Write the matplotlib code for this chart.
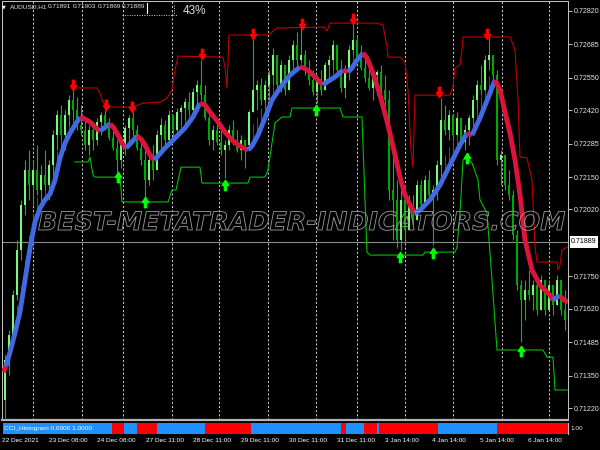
import numpy as np
import matplotlib
matplotlib.use("Agg")
import matplotlib.pyplot as plt
from matplotlib import font_manager, patheffects
from matplotlib.path import Path
from matplotlib.lines import Line2D
from matplotlib.patches import Rectangle
from matplotlib.transforms import blended_transform_factory

# ---------------- data ----------------
symbol = "AUDUSD,H1"
header_ohlc = ["0.71891", "0.71903", "0.71869", "0.71889"]
spread_pct = "43%"
last_price = 0.71889
first_open = 0.71252

high = [0.71433, 0.71534, 0.71695, 0.71897, 0.72058, 0.72219, 0.72259, 0.72219, 0.72279, 0.72199,
        0.72259, 0.72219, 0.72339, 0.72420, 0.72440, 0.72420, 0.72480, 0.72501, 0.72472, 0.72440,
        0.72388, 0.72360, 0.72360, 0.72388, 0.72412, 0.72420, 0.72388, 0.72360, 0.72299, 0.72299,
        0.72360, 0.72400, 0.72412, 0.72360, 0.72299, 0.72259, 0.72259, 0.72279, 0.72339, 0.72388,
        0.72380, 0.72420, 0.72400, 0.72428, 0.72440, 0.72468, 0.72493, 0.72509, 0.72541, 0.72621,
        0.72521, 0.72400, 0.72360, 0.72380, 0.72339, 0.72299, 0.72360, 0.72380, 0.72339, 0.72319,
        0.72299, 0.72420, 0.72710, 0.72541, 0.72549, 0.72541, 0.72581, 0.72670, 0.72642, 0.72621,
        0.72601, 0.72642, 0.72702, 0.72734, 0.72750, 0.72662, 0.72621, 0.72581, 0.72561, 0.72581,
        0.72613, 0.72642, 0.72702, 0.72682, 0.72621, 0.72601, 0.72682, 0.72782, 0.72722, 0.72682,
        0.72642, 0.72601, 0.72581, 0.72581, 0.72601, 0.72561, 0.72501, 0.72259, 0.72138, 0.72098,
        0.72118, 0.72078, 0.72078, 0.72138, 0.72138, 0.72158, 0.72178, 0.72118, 0.72219, 0.72468,
        0.72440, 0.72420, 0.72400, 0.72412, 0.72380, 0.72360, 0.72400, 0.72480, 0.72541, 0.72601,
        0.72642, 0.72710, 0.72642, 0.72581, 0.72259, 0.72219, 0.72178, 0.72098, 0.71937, 0.71735,
        0.71735, 0.71776, 0.71735, 0.71735, 0.71756, 0.71715, 0.71735, 0.71715, 0.71756, 0.71715,
        0.71695]

low = [0.71180, 0.71353, 0.71474, 0.71655, 0.71816, 0.71997, 0.72058, 0.72037, 0.72078, 0.72037,
       0.72098, 0.72058, 0.72158, 0.72259, 0.72299, 0.72259, 0.72360, 0.72380, 0.72339, 0.72319,
       0.72259, 0.72239, 0.72259, 0.72279, 0.72319, 0.72339, 0.72299, 0.72259, 0.72170, 0.72186,
       0.72239, 0.72279, 0.72319, 0.72259, 0.72199, 0.72070, 0.72118, 0.72138, 0.72199, 0.72259,
       0.72279, 0.72299, 0.72319, 0.72339, 0.72360, 0.72380, 0.72400, 0.72420, 0.72440, 0.72460,
       0.72380, 0.72279, 0.72259, 0.72279, 0.72239, 0.72146, 0.72259, 0.72279, 0.72251, 0.72219,
       0.72186, 0.72259, 0.72440, 0.72420, 0.72440, 0.72428, 0.72460, 0.72521, 0.72501, 0.72493,
       0.72480, 0.72509, 0.72561, 0.72601, 0.72613, 0.72561, 0.72521, 0.72480, 0.72448, 0.72480,
       0.72509, 0.72533, 0.72581, 0.72561, 0.72493, 0.72468, 0.72541, 0.72642, 0.72613, 0.72581,
       0.72533, 0.72501, 0.72460, 0.72480, 0.72493, 0.72440, 0.72058, 0.71897, 0.71864, 0.71856,
       0.71897, 0.71937, 0.71957, 0.71997, 0.72017, 0.72037, 0.72058, 0.71876, 0.72058, 0.72138,
       0.72319, 0.72299, 0.72299, 0.72319, 0.72279, 0.72259, 0.72279, 0.72360, 0.72420, 0.72480,
       0.72521, 0.72581, 0.72541, 0.72199, 0.72118, 0.72098, 0.72058, 0.71897, 0.71695, 0.71486,
       0.71574, 0.71655, 0.71615, 0.71594, 0.71635, 0.71594, 0.71615, 0.71594, 0.71635, 0.71594,
       0.71534]

close = [0.71413, 0.71514, 0.71675, 0.71856, 0.72037, 0.72178, 0.72118, 0.72178, 0.72098, 0.72158,
         0.72118, 0.72199, 0.72319, 0.72400, 0.72319, 0.72400, 0.72460, 0.72420, 0.72360, 0.72339,
         0.72279, 0.72339, 0.72299, 0.72372, 0.72400, 0.72360, 0.72307, 0.72267, 0.72219, 0.72279,
         0.72348, 0.72388, 0.72339, 0.72267, 0.72219, 0.72138, 0.72219, 0.72178, 0.72319, 0.72360,
         0.72299, 0.72400, 0.72339, 0.72412, 0.72428, 0.72452, 0.72420, 0.72493, 0.72521, 0.72480,
         0.72388, 0.72299, 0.72339, 0.72291, 0.72259, 0.72279, 0.72339, 0.72299, 0.72259, 0.72299,
         0.72279, 0.72412, 0.72501, 0.72521, 0.72460, 0.72521, 0.72561, 0.72642, 0.72521, 0.72601,
         0.72501, 0.72621, 0.72682, 0.72621, 0.72642, 0.72581, 0.72541, 0.72493, 0.72541, 0.72501,
         0.72601, 0.72621, 0.72682, 0.72581, 0.72509, 0.72581, 0.72662, 0.72702, 0.72629, 0.72589,
         0.72549, 0.72509, 0.72561, 0.72573, 0.72501, 0.72460, 0.72098, 0.72058, 0.71897, 0.72058,
         0.71937, 0.72037, 0.71977, 0.72118, 0.72037, 0.72138, 0.72078, 0.72098, 0.72199, 0.72380,
         0.72339, 0.72400, 0.72319, 0.72388, 0.72291, 0.72339, 0.72388, 0.72460, 0.72521, 0.72501,
         0.72621, 0.72642, 0.72561, 0.72219, 0.72239, 0.72118, 0.72078, 0.71917, 0.71715, 0.71655,
         0.71695, 0.71675, 0.71715, 0.71615, 0.71735, 0.71615, 0.71715, 0.71635, 0.71735, 0.71615,
         0.71574]

# trend moving average (bar position, price, 1 = rising/blue, 0 = falling/red)
ma_bar = [-0.5, 0.25, 1.25, 2.5, 3.75, 5, 6.25, 7.5, 8.75, 10, 11.25, 12.5, 13.75, 15, 16.25,
          17.5, 18.75, 20, 21.25, 22.5, 23.75, 24.75, 26.25, 27.25, 28.25, 29.25, 30.25, 31.25,
          33, 34, 35, 36.25, 37.25, 38.25, 40, 42.5, 45, 47, 48.75, 50, 51.25, 53.25, 55, 56.75,
          58.75, 60.75, 61.75, 63.25, 65, 66.75, 68.75, 71.25, 73.75, 74.75, 76.25, 78.25, 79.5,
          80.5, 82.5, 84.5, 85.75, 86.75, 88, 89.5, 90.5, 91.75, 93.75, 95.75, 97.5, 98.75, 100,
          101.25, 102.5, 103.75, 106.25, 108.75, 111.25, 113.75, 115.5, 116.75, 118.75, 120.75,
          122.5, 123.75, 125, 126.25, 127.5, 128.75, 130, 131.75, 133.75, 136.25, 137, 138,
          138.75, 139.75, 140.75]
ma_price = [0.71365, 0.71389, 0.71445, 0.71522, 0.71607, 0.71735, 0.71864, 0.71969, 0.72025,
            0.72058, 0.72082, 0.72138, 0.72227, 0.72287, 0.72327, 0.72360, 0.72392, 0.72384,
            0.72372, 0.72352, 0.72335, 0.72348, 0.72364, 0.72348, 0.72319, 0.72287, 0.72267,
            0.72283, 0.72315, 0.72303, 0.72279, 0.72239, 0.72219, 0.72235, 0.72267, 0.72307,
            0.72348, 0.72392, 0.72448, 0.72440, 0.72412, 0.72372, 0.72331, 0.72299, 0.72275,
            0.72259, 0.72275, 0.72319, 0.72388, 0.72460, 0.72509, 0.72561, 0.72593, 0.72589,
            0.72573, 0.72541, 0.72521, 0.72533, 0.72553, 0.72581, 0.72573, 0.72589, 0.72621,
            0.72650, 0.72629, 0.72581, 0.72480, 0.72360, 0.72239, 0.72150, 0.72078, 0.72037,
            0.72005, 0.72017, 0.72058, 0.72118, 0.72199, 0.72279, 0.72327, 0.72319, 0.72388,
            0.72468, 0.72541, 0.72501, 0.72412, 0.72327, 0.72219, 0.72078, 0.71897, 0.71776,
            0.71715, 0.71675, 0.71655, 0.71667, 0.71671, 0.71655, 0.71647]
ma_dir = [0, 0, 1, 1, 1, 1, 1, 1, 1, 1, 1, 1, 1, 1, 1, 1, 1, 0, 0, 0, 0, 1, 1, 0, 0, 0, 0, 1, 1,
          0, 0, 0, 0, 1, 1, 1, 1, 1, 1, 0, 0, 0, 0, 0, 0, 0, 1, 1, 1, 1, 1, 1, 1, 0, 0, 0, 0,
          1, 1, 1, 0, 1, 1, 1, 0, 0, 0, 0, 0, 0, 0, 0, 0, 1, 1, 1, 1, 1, 1, 0, 1, 1, 1,
          0, 0, 0, 0, 0, 0, 0, 0, 0, 0, 1, 1, 0, 0]

# upper (red) and lower (green) channel lines
upper_bar = [16.75, 23, 23.75, 24.5, 25.5, 31.75, 32.5, 34.5, 38.75, 40.5, 41.75, 42.5, 43.25,
             54.5, 55, 55.5, 56, 65.75, 66.75, 68, 79.75, 80.5, 81.25, 93, 94.5, 95.5, 95.75,
             98.75, 100, 100.75, 101.5, 102, 102.25, 102.5, 111.25, 112, 112.5, 113.75, 114.25,
             114.5, 126.25, 127.5, 128.25, 128.75, 130.5, 131.75, 132.5, 133, 138, 138.25,
             138.75, 139.25, 140.5]
upper_price = [0.72509, 0.72509, 0.72488, 0.72452, 0.72432, 0.72432, 0.72436, 0.72448, 0.72452,
               0.72468, 0.72501, 0.72581, 0.72637, 0.72633, 0.72593, 0.72509, 0.72722, 0.72722,
               0.72734, 0.72750, 0.72754, 0.72738, 0.72770, 0.72770, 0.72762, 0.72674, 0.72633,
               0.72633, 0.72613, 0.72501, 0.72259, 0.72190, 0.72339, 0.72480, 0.72480, 0.72513,
               0.72589, 0.72601, 0.72662, 0.72714, 0.72714, 0.72662, 0.72460, 0.72231, 0.72227,
               0.72138, 0.71868, 0.71808, 0.71808, 0.71776, 0.71796, 0.71856, 0.71868]
lower_bar = [17.5, 20.75, 21.25, 22, 22.5, 28.75, 29.25, 40.75, 41.75, 42.75, 44, 48.75, 49.25,
             60.75, 61.25, 65, 65.75, 67.5, 69.25, 71.25, 71.75, 83.75, 84.5, 89.25, 90, 90.5,
             91.25, 104.5, 105, 112.5, 113, 113.75, 114.5, 115.5, 116.75, 118.25, 118.75, 120.5,
             121.75, 123, 134.5, 135.5, 137, 137.5, 140.5]
lower_price = [0.72211, 0.72211, 0.72231, 0.72158, 0.72150, 0.72150, 0.72050, 0.72050, 0.72098,
               0.72098, 0.72190, 0.72190, 0.72126, 0.72126, 0.72150, 0.72150, 0.72178, 0.72368,
               0.72392, 0.72392, 0.72428, 0.72428, 0.72392, 0.72392, 0.72058, 0.71848, 0.71836,
               0.71836, 0.71848, 0.71848, 0.71868, 0.72005, 0.72219, 0.72227, 0.72207, 0.72138,
               0.72058, 0.72005, 0.71735, 0.71454, 0.71454, 0.71425, 0.71425, 0.71293, 0.71293]

# signal arrows
sell_bar = [17, 25.25, 31.75, 49.25, 62, 74.25, 87, 108.5, 120.5]
sell_price = [0.72521, 0.72440, 0.72432, 0.72646, 0.72726, 0.72766, 0.72786, 0.72493, 0.72726]
buy_bar = [28.25, 35, 55, 77.75, 98.75, 107, 115.5, 129]
buy_price = [0.72150, 0.72050, 0.72118, 0.72420, 0.71828, 0.71844, 0.72227, 0.71450]

# CCI histogram sub-window (run boundaries in bars, 1 = blue, 0 = red)
cci_edges = [-0.5, 26.75, 29.75, 33, 38, 50, 61.5, 84, 85.25, 89.75, 93, 93.5, 108.25, 123, 140.75]
cci_state = [1, 0, 1, 0, 1, 0, 1, 0, 1, 0, 1, 0, 1, 0]
cci_label = "CCI_Histogram 0.0000 1.0000"
cci_scale_label = "1.00"

# axes
grid_bar = [7, 19.25, 29.5, 41.75, 53.5, 65.75, 77.75, 88, 100, 112, 124.25, 136]
date_bar = [-0.75, 11, 23, 35.25, 47, 59, 71, 83, 95, 106.75, 118.75, 130.75]
date_labels = ["22 Dec 2021", "23 Dec 08:00", "24 Dec 08:00", "27 Dec 11:00", "28 Dec 11:00",
               "29 Dec 11:00", "30 Dec 11:00", "31 Dec 11:00", "3 Jan 14:00", "4 Jan 14:00",
               "5 Jan 14:00", "6 Jan 14:00"]
price_ticks = [0.72820, 0.72685, 0.72550, 0.72420, 0.72285, 0.72150, 0.72020, 0.71750,
               0.71620, 0.71485, 0.71350, 0.71220]
price_labels = ["0.72820", "0.72685", "0.72550", "0.72420", "0.72285", "0.72150", "0.72020",
                "0.71750", "0.71620", "0.71485", "0.71350", "0.71220"]
watermark = "BEST-METATRADER-INDICATORS.COM"


# ---------------- fonts ----------------
def font_ok(name):
    try:
        font_manager.findfont(font_manager.FontProperties(family=name), fallback_to_default=False)
        return True
    except Exception:
        return False


if font_ok("Liberation Sans Narrow"):
    NARROW, SC = "Liberation Sans Narrow", 1.0
else:
    NARROW, SC = "Liberation Sans", 0.85

# ---------------- figure ----------------
W, H = 600, 450
fig = plt.figure(figsize=(6, 4.5), dpi=100, facecolor="black")


def fx(px):
    return px / W


def fy(py):
    return 1 - py / H


ax = fig.add_axes([fx(2), fy(420), 566 / W, 419 / H])
ax.set_facecolor("black")
ax.set_xlim(-0.75, 140.75)
ax.set_ylim(0.71172, 0.72859)
for s in ["left", "top", "right"]:
    ax.spines[s].set_color("#c0c0c0")
    ax.spines[s].set_linewidth(0.75)
ax.spines["bottom"].set_color("#b4b4b4")
ax.spines["bottom"].set_linewidth(1.6)
ax.set_xticks([])
ax.yaxis.tick_right()
ax.set_yticks(price_ticks)
ax.set_yticklabels(price_labels)
ax.tick_params(axis="y", length=3, width=0.7, color="#c0c0c0", labelcolor="#e6e6e6",
               labelsize=6 * SC, pad=1.5)
for lbl in ax.get_yticklabels():
    lbl.set_family(NARROW)

# grid and current price line
for g in grid_bar:
    ax.axvline(g, color="#c8c8c8", lw=0.75, ls=(0, (2, 2)), zorder=1)
ax.axhline(last_price, color="#8c8c8c", lw=0.8, zorder=1.5)

# channel lines
ax.plot(upper_bar, upper_price, color="#c00000", lw=0.8, zorder=3)
ax.plot(lower_bar, lower_price, color="#00c000", lw=0.8, zorder=3)

# candles
hi_a = np.array(high)
lo_a = np.array(low)
cl_a = np.array(close)
n = len(cl_a)
bars = np.arange(n)
op_a = np.concatenate([[first_open], cl_a[:-1]])
hi_a = np.maximum(hi_a, np.maximum(op_a, cl_a))
lo_a = np.minimum(lo_a, np.minimum(op_a, cl_a))

# histogram hairs of the trend line
ma_at = np.interp(bars, ma_bar, ma_price)
seg = np.clip(np.searchsorted(ma_bar, bars), 1, len(ma_bar) - 1)
dir_at = np.array(ma_dir)[seg]
top = np.minimum(hi_a, ma_at + 0.0008)
mask = top > ma_at
hair_cols = ["#2c4ccc" if d else "#b8142e" for d in dir_at[mask]]
ax.vlines(bars[mask], ma_at[mask], top[mask], colors=hair_cols, lw=0.7, zorder=3.5)

ax.vlines(bars, lo_a, hi_a, color="#00c400", lw=0.8, zorder=4)
body_lo = np.minimum(op_a, cl_a)
body_h = np.maximum(np.abs(cl_a - op_a), 0.00003)
body_cols = ["#7cf57c" if c >= o else "#00a800" for o, c in zip(op_a, cl_a)]
ax.bar(bars, body_h, bottom=body_lo, width=0.65, color=body_cols, linewidth=0, zorder=5)

# thick trend line coloured by direction
cols = {1: "#4169e1", 0: "#dc143c"}
k = 1
while k < len(ma_bar):
    d = ma_dir[k]
    j = k
    while j + 1 < len(ma_bar) and ma_dir[j + 1] == d:
        j += 1
    ax.plot(ma_bar[k - 1:j + 1], ma_price[k - 1:j + 1], color=cols[d], lw=3.5,
            solid_capstyle="butt", solid_joinstyle="round", zorder=6)
    k = j + 1

# arrows
down_v = [(-0.2, 0.9), (0.2, 0.9), (0.2, 0.0), (0.55, 0.0), (0.0, -0.9), (-0.55, 0.0),
          (-0.2, 0.0), (-0.2, 0.9)]
down_arrow = Path(down_v, closed=True)
up_arrow = Path([(x, -y) for x, y in down_v], closed=True)
ax.plot(sell_bar, sell_price, ls="none", marker=down_arrow, ms=7.5, color="#ff0000",
        mec="#ff0000", zorder=7)
ax.plot(buy_bar, buy_price, ls="none", marker=up_arrow, ms=7.5, color="#00ff00",
        mec="#00ff00", zorder=7)

# ---------------- CCI sub-window ----------------
ax2 = fig.add_axes([fx(2), fy(433.5), 566 / W, 11 / H])
ax2.set_facecolor("black")
ax2.set_xlim(-0.75, 140.75)
ax2.set_ylim(0, 1)
ax2.set_xticks([])
ax2.set_yticks([])
for s in ["left", "top", "bottom"]:
    ax2.spines[s].set_visible(False)
ax2.spines["right"].set_color("#c0c0c0")
ax2.spines["right"].set_linewidth(0.75)
lefts = np.array(cci_edges[:-1])
widths = np.diff(cci_edges)
ax2.bar(lefts, np.ones(len(lefts)), width=widths, align="edge",
        color=["#1e90ff" if s else "#ff0000" for s in cci_state], linewidth=0)
fig.text(fx(4), fy(428.5), cci_label, color="white", fontsize=5.5 * SC, family=NARROW,
         ha="left", va="center")
fig.text(fx(571), fy(428.5), cci_scale_label, color="#e6e6e6", fontsize=5.5 * SC,
         family=NARROW, ha="left", va="center")

# date labels
tdate = blended_transform_factory(ax.transData, fig.transFigure)
for b, lab in zip(date_bar, date_labels):
    fig.text(b, fy(441), lab, transform=tdate, color="white", fontsize=5.5 * SC,
             family=NARROW, ha="left", va="center")

# current price box
tbox = blended_transform_factory(fig.transFigure, ax.transData)
fig.patches.append(Rectangle((fx(570), last_price - 0.00023), fx(598) - fx(570), 0.00046,
                             transform=tbox, facecolor="white", edgecolor="none", zorder=5))
fig.text(fx(584), last_price, f"{last_price:.5f}", transform=tbox, color="black",
         fontsize=6 * SC, family=NARROW, ha="center", va="center", zorder=6)

# header
fig.text(fx(2), fy(6.5), "\u25bc", color="white", fontsize=3.5, family="DejaVu Sans",
         ha="left", va="center")
fig.text(fx(10), fy(7), symbol, color="#e6e6e6", fontsize=5.5 * SC, family=NARROW,
         ha="left", va="center")
for xpos, val in zip([48, 73, 98, 122], header_ohlc):
    fig.text(fx(xpos), fy(7), val, color="#e6e6e6", fontsize=5.5 * SC, family=NARROW,
             ha="left", va="center")
fig.text(fx(183), fy(10.5), spread_pct, color="#d8d8d8", fontsize=10 * SC, family=NARROW,
         ha="left", va="center")
fig.add_artist(Line2D([fx(122), fx(177)], [fy(14.5), fy(14.5)], transform=fig.transFigure,
                      color="#d0d0d0", lw=0.7, ls=(0, (1, 1.5))))
fig.add_artist(Line2D([fx(173.5), fx(173.5)], [fy(5), fy(14.5)], transform=fig.transFigure,
                      color="#d0d0d0", lw=0.7, ls=(0, (1, 1.5))))
fig.add_artist(Line2D([fx(146.5), fx(146.5)], [fy(3), fy(13)], transform=fig.transFigure,
                      color="white", lw=0.8))

# watermark (outlined text)
wm = fig.text(fx(38), fy(223), watermark, fontsize=20, fontweight="bold", fontstyle="italic",
              family="DejaVu Sans", color=(0, 0, 0, 0), ha="left", va="center", zorder=8)
wm.set_path_effects([patheffects.Stroke(linewidth=0.6, foreground="#9c9c9c")])
fig.canvas.draw()
wext = wm.get_window_extent().width
wm.set_fontsize(20 * 527 / wext)

fig.savefig("out.png", dpi=100, facecolor="black")
